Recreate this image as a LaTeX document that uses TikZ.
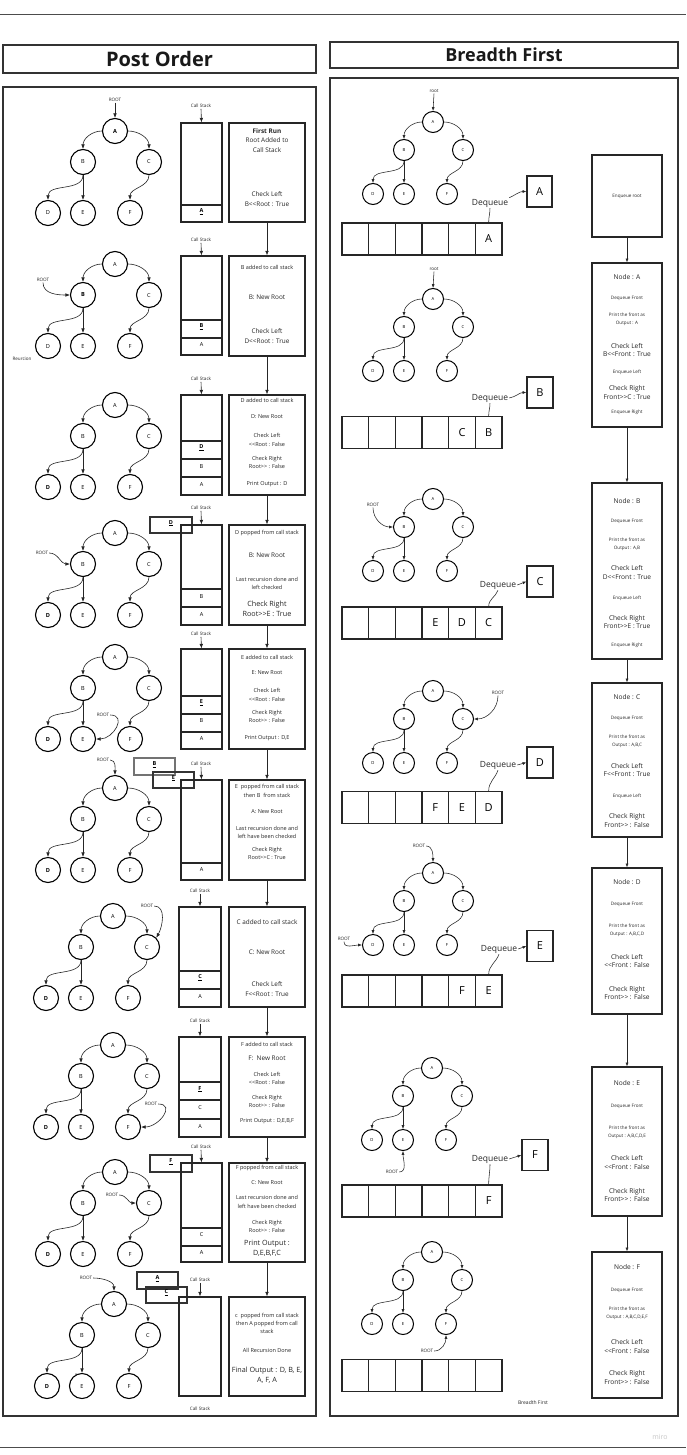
\documentclass[tikz,border=0pt]{standalone}
\usepackage{fontspec}
\setmainfont{Open Sans}
\usetikzlibrary{arrows.meta,fit}
\newcommand\fXS{\fontsize{4.6}{6}\selectfont}
\newcommand\fS{\fontsize{5.5}{8.4}\selectfont}
\newcommand\fM{\fontsize{6.4}{9.6}\selectfont}
\newcommand\fL{\fontsize{7.2}{10}\selectfont}
\newcommand\fRS{\fontsize{4.6}{8}\selectfont}
\newcommand\fRM{\fontsize{6.6}{8.7}\selectfont}
\newcommand\uB[1]{\underline{\textbf{#1}}}
\newcommand\LLt{<\kern0pt<}
\newcommand\GGt{>\kern0pt>}
\tikzset{
  pframe/.style={draw=black!80, line width=1.1pt, inner sep=0pt},
  lnode/.style={circle, draw=black, line width=1.1pt, minimum size=25pt, inner sep=0pt, font=\fontsize{5.6}{6}\selectfont},
  rnode/.style={circle, draw=black, line width=1pt, minimum size=21pt, inner sep=0pt, font=\fontsize{4.2}{5}\selectfont},
  arr/.style={-{Latex[length=4.5pt,width=3.6pt]}, line width=0.6pt, draw=black!85},
  rarr/.style={-{Latex[length=3.8pt,width=3pt]}, line width=0.55pt, draw=black!85},
  qline/.style={line width=0.55pt, draw=black!85},
  pbox/.style={draw=black!85, line width=1.2pt, inner sep=0pt},
  cell/.style={draw=black!85, line width=1.2pt, inner sep=0pt, font=\fS},
  pop/.style={draw=black!80, line width=1.1pt, inner sep=0pt, font=\fS},
  qcell/.style={draw=black!85, line width=1.3pt, minimum width=26.67pt, minimum height=32pt, inner sep=0pt, font=\fontsize{11}{12}\selectfont},
  qx/.style={draw=black!85, line width=1.2pt, minimum width=26pt, minimum height=31pt, inner sep=0pt, font=\fontsize{11}{12}\selectfont},
  dq/.style={font=\fontsize{8.5}{10}\selectfont, inner sep=1pt, text=black!85},
  lbl/.style={font=\fXS, inner sep=0.8pt, text=black!85},
  tx/.style={align=center, inner sep=0pt, text=black!85},
}
\newcommand\LTreeDraw[6]{%
\begin{scope}[shift={(#2,#3)}]
 \node[lnode] (#1A) at (0,0) {#4};
 \node[lnode] (#1B) at (-32,31) {#5};
 \node[lnode] (#1C) at (34,31) {C};
 \node[lnode] (#1D) at (-67,82) {#6};
 \node[lnode] (#1E) at (-32,82) {E};
 \node[lnode] (#1F) at (15,82) {F};
\end{scope}
\draw[arr] (#1A.west) to[out=180,in=90] (#1B.north);
\draw[arr] (#1A.east) to[out=0,in=90] (#1C.north);
\draw[arr] (#1B.south) to[out=-90,in=90] (#1D.north);
\draw[arr] (#1B.south) -- (#1E.north);
\draw[arr] (#1C.south) to[out=-90,in=90] (#1F.north);
}
\newcommand\RTreeDraw[3]{%
\begin{scope}[shift={(#2,#3)}]
 \node[rnode] (#1A) at (0,0) {A};
 \node[rnode] (#1B) at (-29,28) {B};
 \node[rnode] (#1C) at (30,28) {C};
 \node[rnode] (#1D) at (-60,72) {D};
 \node[rnode] (#1E) at (-29,72) {E};
 \node[rnode] (#1F) at (14,72) {F};
\end{scope}
\draw[rarr] (#1A.west) to[out=180,in=90] (#1B.north);
\draw[rarr] (#1A.east) to[out=0,in=90] (#1C.north);
\draw[rarr] (#1B.south) to[out=-90,in=90] (#1D.north);
\draw[rarr] (#1B.south) -- (#1E.north);
\draw[rarr] (#1C.south) to[out=-90,in=90] (#1F.north);
}
\newcommand\QRow[8]{%
 \node[qcell] (#1q1) at (355.33,#2) {#3};
 \node[qcell] (#1q2) at (382,#2) {#4};
 \node[qcell] (#1q3) at (408.67,#2) {#5};
 \node[qcell] (#1q4) at (435.33,#2) {#6};
 \node[qcell] (#1q5) at (462,#2) {#7};
 \node[qcell] (#1q6) at (488.67,#2) {#8};
}
\begin{document}
\begin{tikzpicture}[x=1pt,y=-1pt]
\fill[white] (0,0) rectangle (686,1455);
\useasboundingbox (0,0) rectangle (686,1455);
\draw[black!70, line width=0.9pt] (0,14) -- (686,14);
\draw[black!70, line width=0.9pt] (0,1447) -- (686,1447);
\node[font=\fontsize{7}{8}\selectfont, text=black!22] (miro) at (660,1437) {miro};
% headers and panels
\node[pframe, fit={(3,45)(316,73)}] (hdL) {};
\node[font=\fontsize{20}{22}\selectfont\bfseries, text=black!90, inner sep=0pt] (hdLt) at (159.5,59) {Post Order};
\node[pframe, fit={(330,42)(678,68)}] (hdR) {};
\node[font=\fontsize{18}{20}\selectfont\bfseries, text=black!90, inner sep=0pt] (hdRt) at (504,55) {Breadth First};
\node[pframe, fit={(3,87)(316,1416)}] (panL) {};
\node[pframe, fit={(330,78)(678,1416)}] (panR) {};

% ===== LEFT ROW 1
\LTreeDraw{a}{115}{131}{\textbf{A}}{B}{D}
\node[lbl] (ar) at (115,100) {ROOT};
\draw[arr] (ar.south) -- (aA.north);
\node[lbl] (acs) at (201,106) {Call Stack};
\node[pbox, fit={(181,123)(222,222)}] (aS) {};
\node[cell, fit={(181,205)(222,222)}] (aS1) {\uB{A}};
\draw[arr] (acs.south) -- (aS.north);
\node[pbox, fit={(229,123)(305,222)}] (aL) {};
\node[tx,font=\fM] (aT1) at (267,140.5) {\textbf{First Run}\\Root Added to\\Call Stack};
\node[tx,font=\fM] (aT2) at (267,199) {Check Left\\B\LLt Root : True};

% ===== LEFT ROW 2
\LTreeDraw{b}{115}{264}{A}{\textbf{B}}{D}
\node[lbl] (br) at (43,280) {ROOT};
\draw[arr] (br.south) to[out=-90,in=180] (bB.west);
\node[lbl] (brc) at (22,359) {Reurcion};
\node[lbl] (bcs) at (201,240) {Call Stack};
\node[pbox, fit={(181,256)(222,355)}] (bS) {};
\node[cell, fit={(181,320)(222,337.5)}] (bS1) {\uB{B}};
\node[cell, fit={(181,338)(222,355)}] (bS2) {A};
\draw[arr] (bcs.south) -- (bS.north);
\node[pbox, fit={(229,256)(305,356)}] (bL) {};
\node[tx,font=\fS] (bT1) at (267,267) {B added to call stack};
\node[tx,font=\fM] (bT2) at (267,297) {B: New Root};
\node[tx,font=\fM] (bT3) at (267,336) {Check Left\\D\LLt Root : True};
\draw[arr] (aL.south) -- (bL.north);

% ===== LEFT ROW 3
\LTreeDraw{c}{115}{405}{A}{B}{\textbf{D}}
\node[lbl] (ccs) at (201,379) {Call Stack};
\node[pbox, fit={(181,395)(222,495)}] (cS) {};
\node[cell, fit={(181,441)(222,458.5)}] (cS1) {\uB{D}};
\node[cell, fit={(181,459)(222,477)}] (cS2) {B};
\node[cell, fit={(181,477.5)(222,495)}] (cS3) {A};
\draw[arr] (ccs.south) -- (cS.north);
\node[pbox, fit={(229,395)(305,495)}] (cL) {};
\node[tx,font=\fS] (cT1) at (267,400.5) {D added to call stack};
\node[tx,font=\fS] (cT2) at (267,417) {D: New Root};
\node[tx,font=\fS] (cT3) at (267,440) {Check Left\\\LLt Root : False};
\node[tx,font=\fS] (cT4) at (267,462.5) {Check Right\\Root\GGt{} : False};
\node[tx,font=\fS] (cT5) at (267,484) {Print Output : D};
\draw[arr] (bL.south) -- (cL.north);

% ===== LEFT ROW 4
\LTreeDraw{d}{115}{533}{A}{B}{\textbf{D}}
\node[lbl] (dr) at (42,553) {ROOT};
\draw[arr] (dr.east) to[out=0,in=180] (dB.west);
\node[pop, fit={(150,517)(192,533)}] (dP1) {\uB{D}};
\node[lbl] (dcs) at (201,508) {Call Stack};
\node[pbox, fit={(181,525)(222,625)}] (dS) {};
\node[cell, fit={(181,589)(222,607)}] (dS1) {B};
\node[cell, fit={(181,607.5)(222,625)}] (dS2) {A};
\draw[arr] (dcs.south) -- (dS.north);
\node[pbox, fit={(229,525)(305,625)}] (dL) {};
\node[tx,font=\fS] (dT1) at (267,533) {D popped from call stack};
\node[tx,font=\fM] (dT2) at (267,555) {B: New Root};
\node[tx,font=\fS] (dT3) at (267,583.5) {Last recursion done and\\left checked};
\node[tx,font=\fL] (dT4) at (267,609) {Check Right\\Root\GGt E : True};
\draw[arr] (cL.south) -- (dL.north);

% ===== LEFT ROW 5
\LTreeDraw{e}{115}{657}{A}{B}{\textbf{D}}
\node[lbl] (er) at (103,715) {ROOT};
\draw[arr] (er.east) to[out=0,in=0,looseness=1.6] (eE.east);
\node[lbl] (ecs) at (201,634) {Call Stack};
\node[pbox, fit={(181,649)(222,749)}] (eS) {};
\node[cell, fit={(181,696)(222,713.5)}] (eS1) {\uB{E}};
\node[cell, fit={(181,714)(222,731.5)}] (eS2) {B};
\node[cell, fit={(181,732)(222,749)}] (eS3) {A};
\draw[arr] (ecs.south) -- (eS.north);
\node[pbox, fit={(229,649)(305,749)}] (eL) {};
\node[tx,font=\fS] (eT1) at (267,657) {E added to call stack};
\node[tx,font=\fS] (eT2) at (267,673) {E: New Root};
\node[tx,font=\fS] (eT3) at (267,695) {Check Left\\\LLt Root : False};
\node[tx,font=\fS] (eT4) at (267,716.5) {Check Right\\Root\GGt{} : False};
\node[tx,font=\fS] (eT5) at (267,738) {Print Output : D,E};
\draw[arr] (dL.south) -- (eL.north);

% ===== LEFT ROW 6
\LTreeDraw{f}{115}{788}{A}{B}{\textbf{D}}
\node[lbl] (fr) at (103,760) {ROOT};
\draw[arr] (fr.east) to[out=0,in=90] (fA.north);
\node[pop, draw=black!55, fit={(134,758)(175,775)}] (fP1) {\uB{B}};
\node[pop, fit={(153,772)(194,788)}] (fP2) {\uB{E}};
\node[lbl] (fcs) at (201,764) {Call Stack};
\node[pbox, fit={(181,780)(222,880)}] (fS) {};
\node[cell, fit={(181,863)(222,880)}] (fS1) {A};
\draw[arr] (fcs.south) -- (fS.north);
\node[pbox, fit={(229,780)(305,880)}] (fL) {};
\node[tx,font=\fS] (fT1) at (267,791) {E\ \ popped from call stack\\then B\ \ from stack};
\node[tx,font=\fS] (fT2) at (267,812) {A: New Root};
\node[tx,font=\fS] (fT3) at (267,832.5) {Last recursion done and\\left have been checked};
\node[tx,font=\fS] (fT4) at (267,853.5) {Check Right\\Root\GGt C : True};
\draw[arr] (eL.south) -- (fL.north);

% ===== LEFT ROW 7
\LTreeDraw{g}{113}{916}{A}{B}{\textbf{D}}
\node[lbl] (gr) at (147,906) {ROOT};
\draw[arr] (gr.east) to[out=0,in=60] (gC.north east);
\node[lbl] (gcs) at (200,891) {Call Stack};
\node[pbox, fit={(179,907)(221,1007)}] (gS) {};
\node[cell, fit={(179,971)(221,988.5)}] (gS1) {\uB{C}};
\node[cell, fit={(179,989)(221,1007)}] (gS2) {A};
\draw[arr] (gcs.south) -- (gS.north);
\node[pbox, fit={(229,907)(305,1007)}] (gL) {};
\node[tx,font=\fM] (gT1) at (267,922) {C added to call stack};
\node[tx,font=\fM] (gT2) at (267,952) {C: New Root};
\node[tx,font=\fM] (gT3) at (267,989) {Check Left\\F\LLt Root : True};
\draw[arr] (fL.south) -- (gL.north);

% ===== LEFT ROW 8
\LTreeDraw{h}{113}{1045}{A}{B}{\textbf{D}}
\node[lbl] (hr) at (151,1104) {ROOT};
\draw[arr] (hr.east) to[out=0,in=0,looseness=1.6] (hF.east);
\node[lbl] (hcs) at (200,1021) {Call Stack};
\node[pbox, fit={(179,1037)(221,1137)}] (hS) {};
\node[cell, fit={(179,1082)(221,1100)}] (hS1) {\uB{F}};
\node[cell, fit={(179,1100.5)(221,1118.5)}] (hS2) {C};
\node[cell, fit={(179,1119)(221,1137)}] (hS3) {A};
\draw[arr] (hcs.south) -- (hS.north);
\node[pbox, fit={(229,1037)(305,1137)}] (hL) {};
\node[tx,font=\fS] (hT1) at (267,1044) {F added to call stack};
\node[tx,font=\fM] (hT2) at (267,1058) {F:\ \ New Root};
\node[tx,font=\fS] (hT3) at (267,1078.5) {Check Left\\\LLt Root : False};
\node[tx,font=\fS] (hT4) at (267,1101.5) {Check Right\\Root\GGt{} : False};
\node[tx,font=\fS] (hT5) at (267,1121) {Print Output : D,E,B,F};
\draw[arr] (gL.south) -- (hL.north);

% ===== LEFT ROW 9
\LTreeDraw{i}{115}{1172}{A}{B}{\textbf{D}}
\node[lbl] (ir) at (112,1195) {ROOT};
\draw[arr] (ir.east) to[out=0,in=180] (iC.west);
\node[pop, fit={(150,1155)(192,1172)}] (iP1) {\uB{F}};
\node[lbl] (ics) at (201,1147) {Call Stack};
\node[pbox, fit={(181,1163)(222,1262)}] (iS) {};
\node[cell, fit={(181,1228)(222,1245.5)}] (iS1) {C};
\node[cell, fit={(181,1246)(222,1262)}] (iS2) {A};
\draw[arr] (ics.south) -- (iS.north);
\node[pbox, fit={(229,1163)(305,1262)}] (iL) {};
\node[tx,font=\fS] (iT1) at (267,1168) {F popped from call stack};
\node[tx,font=\fS] (iT2) at (267,1183) {C: New Root};
\node[tx,font=\fS] (iT3) at (267,1202) {Last recursion done and\\left have been checked};
\node[tx,font=\fS] (iT4) at (267,1226.5) {Check Right\\Root\GGt{} : False};
\node[tx,font=\fL] (iT5) at (267,1248) {Print Output :\\D,E,B,F,C};
\draw[arr] (hL.south) -- (iL.north);

% ===== LEFT ROW 10
\LTreeDraw{j}{114}{1304}{A}{B}{\textbf{D}}
\node[lbl] (jr) at (86,1278) {ROOT};
\draw[arr] (jr.east) to[out=0,in=90] (jA.north);
\node[pop, fit={(137,1272)(178,1289)}] (jP1) {\uB{A}};
\node[pop, fit={(146,1287)(187,1303)}] (jP2) {\uB{C}};
\node[lbl] (jcs) at (200,1280) {Call Stack};
\node[pbox, fit={(179,1297)(221,1396)}] (jS) {};
\draw[arr] (jcs.south) -- (jS.north);
\node[pbox, fit={(229,1297)(305,1396)}] (jL) {};
\node[tx,font=\fS] (jT1) at (267,1323.5) {c\ \ popped from call stack\\then A popped from call\\stack};
\node[tx,font=\fS] (jT2) at (267,1350) {All Recursion Done};
\node[tx,font=\fL] (jT3) at (267,1375) {Final Output : D, B, E,\\A, F, A};
\draw[arr] (iL.south) -- (jL.north);
\node[lbl] (jcs2) at (200,1409) {Call Stack};
\node[lbl] (jc) at (76,1375) {c};

% ===== RIGHT ROW 1
\RTreeDraw{ra}{433}{122}
\node[lbl] (raR) at (434,91) {root};
\draw[rarr] (raR.south) -- (raA.north);
\QRow{ra}{239}{}{}{}{}{}{A}
\node[dq] (raDq) at (490,203) {Dequeue};
\node[qx, minimum width=25pt] (raX) at (539.5,191.5) {A};
\draw[qline] (raq6.north) to[out=90,in=-90] (raDq.south);
\draw[rarr] (raDq.north east) to[out=25,in=180] (raX.west);
\node[pbox, fit={(592,155)(662,237)}] (R0) {};
\node[tx,font=\fRS] (R0t) at (627,196) {Enqueue root};
\node[pbox, fit={(592,263)(662,427)}] (R1) {};
\node[tx,font=\fRM] (R1a) at (627,277) {Node : A};
\node[tx,font=\fRS] (R1b) at (627,298) {Dequeue Front};
\node[tx,font=\fRS] (R1c) at (627,319) {Print the front as\\Output : A};
\node[tx,font=\fRM] (R1d) at (627,350) {Check Left\\B\LLt Front : True};
\node[tx,font=\fRS] (R1e) at (627,372) {Enqueue Left};
\node[tx,font=\fRM] (R1f) at (627,392.5) {Check Right\\Front\GGt C : True};
\node[tx,font=\fRS] (R1g) at (627,412) {Enqueue Right};
\draw[rarr] (R0.south) -- (R1.north);

% ===== RIGHT ROW 2
\RTreeDraw{rb}{433}{299}
\node[lbl] (rbR) at (434,269) {root};
\draw[rarr] (rbR.south) -- (rbA.north);
\QRow{rb}{432.5}{}{}{}{}{C}{B}
\node[dq] (rbDq) at (490,398) {Dequeue};
\node[qx] (rbX) at (540,392.5) {B};
\draw[qline] (rbq6.north) to[out=90,in=-90] (rbDq.south);
\draw[rarr] (rbDq.east) to[out=10,in=180] (rbX.west);

% ===== RIGHT ROW 3
\RTreeDraw{rc}{433}{499}
\node[lbl] (rcR) at (373,505) {ROOT};
\draw[rarr] (rcR.south) to[out=-90,in=180] (rcB.west);
\QRow{rc}{623}{}{}{}{E}{D}{C}
\node[dq] (rcDq) at (498,585) {Dequeue};
\node[qx] (rcX) at (540,581.5) {C};
\draw[qline] (rcq6.north) to[out=90,in=-110] (rcDq.south);
\draw[rarr] (rcDq.east) -- (rcX.west);
\node[pbox, fit={(592,483)(662,659)}] (R2) {};
\node[tx,font=\fRM] (R2a) at (627,501) {Node : B};
\node[tx,font=\fRS] (R2b) at (627,521) {Dequeue Front};
\node[tx,font=\fRS] (R2c) at (627,544) {Print the front as\\Output : A,B};
\node[tx,font=\fRM] (R2d) at (627,572.5) {Check Left\\D\LLt Front : True};
\node[tx,font=\fRS] (R2e) at (627,598) {Enqueue Left};
\node[tx,font=\fRM] (R2f) at (627,622) {Check Right\\Front\GGt E : True};
\node[tx,font=\fRS] (R2g) at (627,645) {Enqueue Right};
\draw[rarr] (R1.south) -- (R2.north);

% ===== RIGHT ROW 4
\RTreeDraw{rd}{433}{691}
\node[lbl] (rdR) at (498,693) {ROOT};
\draw[rarr] (rdR.south) to[out=-90,in=0] (rdC.east);
\QRow{rd}{807.5}{}{}{}{F}{E}{D}
\node[dq] (rdDq) at (498,765) {Dequeue};
\node[qx] (rdX) at (540,762.5) {D};
\draw[qline] (rdq6.north) to[out=90,in=-110] (rdDq.south);
\draw[rarr] (rdDq.east) -- (rdX.west);
\node[pbox, fit={(592,683)(662,837)}] (R3) {};
\node[tx,font=\fRM] (R3a) at (627,697) {Node : C};
\node[tx,font=\fRS] (R3b) at (627,718) {Dequeue Front};
\node[tx,font=\fRS] (R3c) at (627,741) {Print the front as\\Output : A,B,C};
\node[tx,font=\fRM] (R3d) at (627,770) {Check Left\\F\LLt Front : True};
\node[tx,font=\fRS] (R3e) at (627,796) {Enqueue Left};
\node[tx,font=\fRM] (R3f) at (627,820.5) {Check Right\\Front\GGt{} : False};
\draw[rarr] (R2.south) -- (R3.north);

% ===== RIGHT ROW 5
\RTreeDraw{re}{433}{873}
\node[lbl] (reR) at (419,846) {ROOT};
\draw[rarr] (reR.east) to[out=0,in=90] (reA.north);
\node[lbl] (reR2) at (344,939) {ROOT};
\draw[rarr] (reR2.south) to[out=-90,in=180] (reD.west);
\QRow{re}{991}{}{}{}{}{F}{E}
\node[dq] (reDq) at (499,949) {Dequeue};
\node[qx] (reX) at (540,946) {E};
\draw[qline] (req6.north) to[out=90,in=-110] (reDq.south);
\draw[rarr] (reDq.east) -- (reX.west);
\node[pbox, fit={(592,868)(662,1014)}] (R4) {};
\node[tx,font=\fRM] (R4a) at (627,882) {Node : D};
\node[tx,font=\fRS] (R4b) at (627,904) {Dequeue Front};
\node[tx,font=\fRS] (R4c) at (627,930) {Print the front as\\Output : A,B,C,D};
\node[tx,font=\fRM] (R4d) at (627,961) {Check Left\\\LLt Front : False};
\node[tx,font=\fRM] (R4e) at (627,993) {Check Right\\Front\GGt{} : False};
\draw[rarr] (R3.south) -- (R4.north);

% ===== RIGHT ROW 6
\RTreeDraw{rf}{432}{1068}
\node[lbl] (rfR) at (392,1172) {ROOT};
\draw[rarr] (rfR.east) to[out=0,in=-90] (rfE.south);
\QRow{rf}{1201}{}{}{}{}{}{F}
\node[dq] (rfDq) at (490,1159) {Dequeue};
\node[qx] (rfX) at (535,1155) {F};
\draw[qline] (rfq6.north) to[out=90,in=-90] (rfDq.south);
\draw[rarr] (rfDq.east) -- (rfX.west);
\node[pbox, fit={(592,1067)(662,1216)}] (R5) {};
\node[tx,font=\fRM] (R5a) at (627,1083) {Node : E};
\node[tx,font=\fRS] (R5b) at (627,1106) {Dequeue Front};
\node[tx,font=\fRS] (R5c) at (627,1132) {Print the front as\\Output : A,B,C,D,E};
\node[tx,font=\fRM] (R5d) at (627,1162.5) {Check Left\\\LLt Front : False};
\node[tx,font=\fRM] (R5e) at (627,1195) {Check Right\\Front\GGt{} : False};
\draw[rarr] (R4.south) -- (R5.north);

% ===== RIGHT ROW 7
\RTreeDraw{rg}{432}{1252}
\node[lbl] (rgR) at (427,1351) {ROOT};
\draw[rarr] (rgR.east) to[out=0,in=-90] (rgF.south);
\QRow{rg}{1375.5}{}{}{}{}{}{}
\node[pbox, fit={(592,1252)(662,1398)}] (R6) {};
\node[tx,font=\fRM] (R6a) at (627,1267) {Node : F};
\node[tx,font=\fRS] (R6b) at (627,1290) {Dequeue Front};
\node[tx,font=\fRS] (R6c) at (627,1313.5) {Print the front as\\Output : A,B,C,D,E,F};
\node[tx,font=\fRM] (R6d) at (627,1346.5) {Check Left\\\LLt Front : False};
\node[tx,font=\fRM] (R6e) at (627,1377.5) {Check Right\\Front\GGt{} : False};
\draw[rarr] (R5.south) -- (R6.north);
\node[tx,font=\fontsize{5}{6}\selectfont] (bft) at (533,1403) {Breadth First};
\end{tikzpicture}
\end{document}
